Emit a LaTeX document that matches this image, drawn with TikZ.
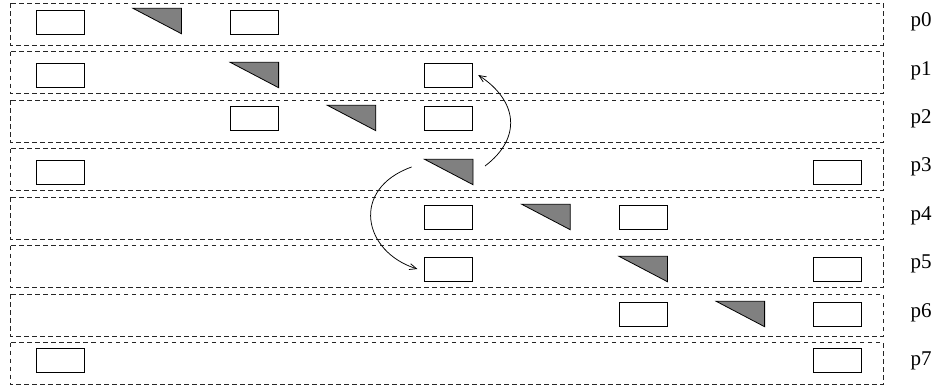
\documentclass[tikz,border=0pt]{standalone}
\usepackage{fontspec}
\setmainfont{Liberation Serif}
\usetikzlibrary{arrows.meta}

\tikzset{
  band/.style={draw=black!85, dash pattern=on 4.5pt off 3.5pt, line width=0.8pt},
  blk/.style={draw, fill=white, line width=0.8pt, minimum width=48pt, minimum height=24pt, inner sep=0pt},
  slot/.style={minimum width=48pt, minimum height=25pt, inner sep=0pt},
  wedge/.style={draw, fill=wedgegray, line width=0.8pt, line join=miter},
  hop/.style={-{Straight Barb[length=7pt,width=6pt]}, line width=0.75pt},
  plabel/.style={font=\fontsize{21}{21}\selectfont, inner sep=0pt}
}

\begin{document}
\begin{tikzpicture}[x=1pt, y=-1pt]

% Colors
\definecolor{wedgegray}{RGB}{128,128,128}

\useasboundingbox (0,0) rectangle (937,388);

% Processor rows and their labels
\foreach \i in {0,...,7} {
  \draw[band] (10,3+48.5*\i) rectangle (883,45+48.5*\i);
  \node[plabel] (lab\i) at (921,22+48.4*\i) {p\i};
}

% Blocks held by each row
\foreach \r/\y/\cols in {0/22/{0,2}, 1/75/{0,4}, 2/118/{2,4}, 3/172/{0,8},
                         4/217/{4,6}, 5/269/{4,8}, 6/314/{6,8}, 7/360/{0,8}} {
  \foreach \c in \cols {
    \node[blk] (b\r-\c) at (60+97.2*\c,\y) {};
  }
}

% Shaded wedges
\foreach \r/\y/\c in {0/21/1, 1/75/2, 2/118/3, 3/172/4, 4/217/5, 5/269/6, 6/314/7} {
  \node[slot] (t\r) at (60+97.2*\c,\y) {};
  \filldraw[wedge] (t\r.north west) -- (t\r.north east) -- (t\r.south east) -- cycle;
}

% Transfers out of row 3
\draw[hop] ([shift={(12,-6)}]t3.east) .. controls (522,138) and (518,101) .. ([xshift=5pt]b1-4.east);
\draw[hop] ([shift={(-13,-5)}]t3.west) .. controls (350,189) and (363,252) .. ([xshift=-7pt]b5-4.west);

\end{tikzpicture}
\end{document}
